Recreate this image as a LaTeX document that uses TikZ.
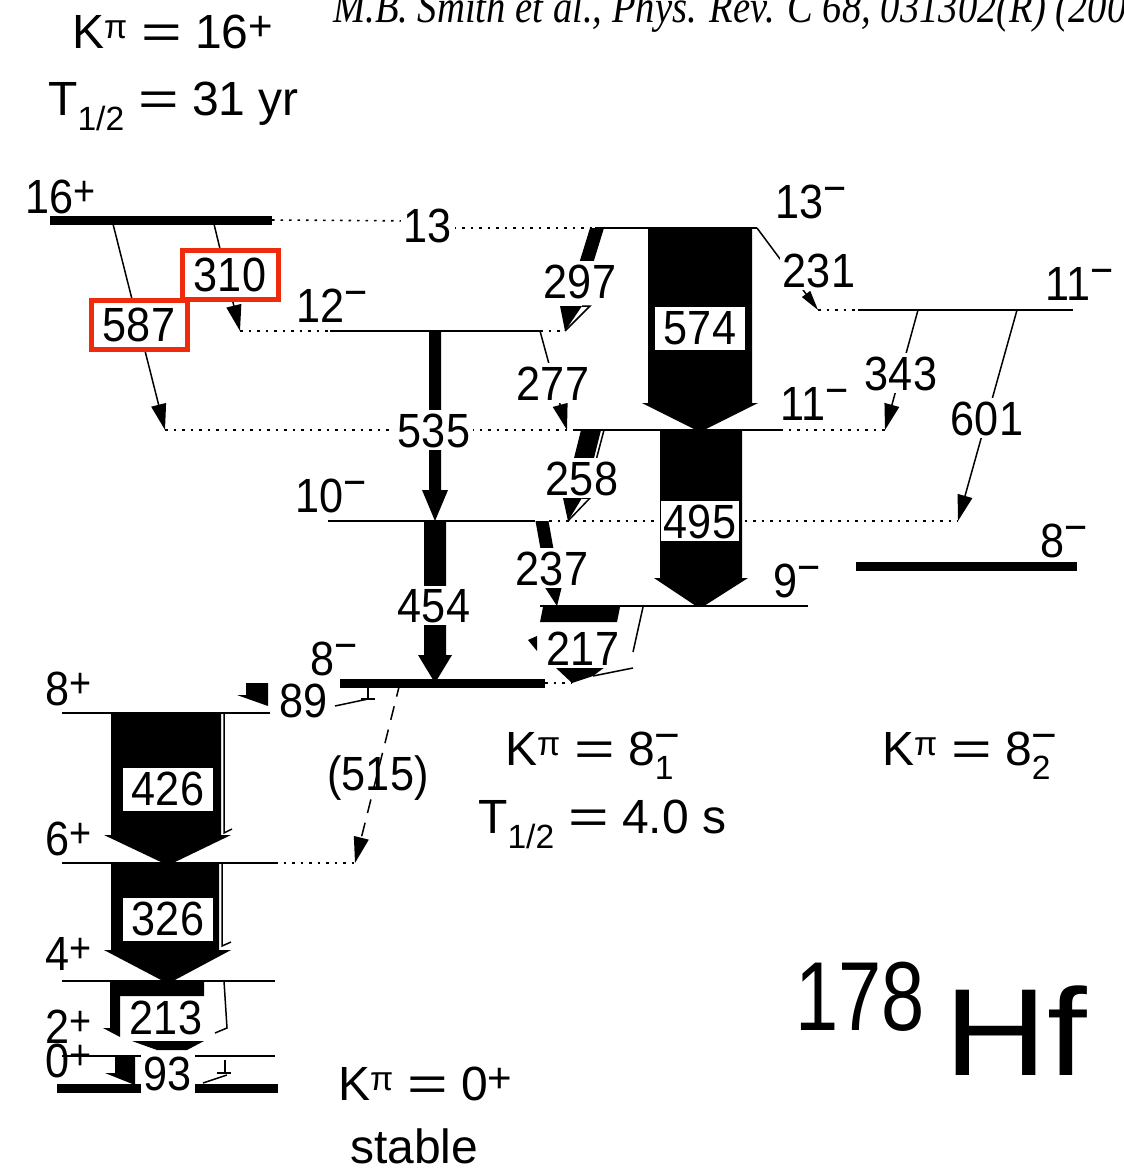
\documentclass[tikz,border=0pt]{standalone}
\usepackage{fontspec}
\setmainfont{Liberation Sans}[FakeStretch=0.9]
\newfontfamily\widefont{Liberation Sans}
\newfontfamily\citefont{Liberation Serif}[FakeStretch=0.84]
\usetikzlibrary{arrows.meta}
\definecolor{boxred}{RGB}{240,42,12}
\newcommand\sPlus{\raisebox{8pt}{\fontsize{42}{42}\selectfont +}}
\newcommand\sMinus{\raisebox{15pt}{\fontsize{44}{44}\selectfont −}}
\newcommand\eqsign{\ \scalebox{1.45}[1]{=}\ }
\begin{document}
\begin{tikzpicture}[x=1pt,y=-1pt,
  every node/.style={inner sep=0pt, font=\fontsize{48}{50}\selectfont},
  lbl/.style={anchor=base, fill=white, inner sep=3pt},
  plainlbl/.style={anchor=base},
  spin/.style={anchor=base west},
  note/.style={anchor=base west, font=\widefont\fontsize{48}{50}\selectfont},
  lvl/.style={line width=2pt},
  thicklvl/.style={line width=9pt},
  dotl/.style={line width=1.6pt, dash pattern=on 2.5pt off 6pt},
  tr/.style={line width=1.5pt, -{Triangle[length=26pt,width=15pt]}},
  ol/.style={line width=1.5pt},
  redbox/.style={draw=boxred, line width=5pt, fill=white, minimum width=96pt, minimum height=49pt},
  whitebox/.style={fill=white, minimum width=90pt, minimum height=43pt},
]
\useasboundingbox (0,0) rectangle (1124,1170);

% ---------- levels ----------
\coordinate (a16) at (50,220);  \coordinate (b16) at (272,220);
\coordinate (d13a) at (428,221); \coordinate (d13b) at (428,228);
\coordinate (a13) at (595,228); \coordinate (b13) at (757,228);
\draw[thicklvl] (a16) -- (b16);
\draw[dotl] (b16) -- (d13a);
\draw[dotl] (d13b) -- (a13);
\draw[lvl] (a13) -- (b13);

\coordinate (p310) at (240,331); \coordinate (a12) at (330,331);
\coordinate (b12) at (540,331);  \coordinate (p297) at (565,331);
\draw[dotl] (p310) -- (a12);
\draw[lvl] (a12) -- (b12);
\draw[dotl] (b12) -- (p297);

\coordinate (p231) at (818,310); \coordinate (a11u) at (858,310); \coordinate (b11u) at (1073,310);
\draw[dotl] (p231) -- (a11u);
\draw[lvl] (a11u) -- (b11u);

\coordinate (p587) at (165,430); \coordinate (a11m) at (575,430);
\coordinate (b11m) at (780,430); \coordinate (p343) at (885,430);
\draw[dotl] (p587) -- (a11m);
\draw[lvl] (a11m) -- (b11m);
\draw[dotl] (b11m) -- (p343);

\coordinate (a10) at (328,521); \coordinate (b10) at (535,521);
\coordinate (c10) at (549,521); \coordinate (p601) at (958,521);
\draw[lvl] (a10) -- (b10);
\draw[dotl] (c10) -- (p601);

\coordinate (a9) at (540,606); \coordinate (b9) at (808,606);
\draw[lvl] (a9) -- (b9);

\coordinate (a8r) at (856,566); \coordinate (b8r) at (1077,566);
\draw[thicklvl] (a8r) -- (b8r);

\coordinate (a8i) at (340,683); \coordinate (b8i) at (545,683); \coordinate (p217) at (572,683);
\draw[thicklvl] (a8i) -- (b8i);
\draw[dotl] (b8i) -- (p217);

\coordinate (a8p) at (62,713); \coordinate (b8p) at (270,713);
\draw[lvl] (a8p) -- (b8p);
\coordinate (a6p) at (62,863); \coordinate (b6p) at (275,863); \coordinate (p515) at (355,863);
\draw[lvl] (a6p) -- (b6p);
\draw[dotl] (b6p) -- (p515);
\coordinate (a4p) at (62,981); \coordinate (b4p) at (275,981);
\draw[lvl] (a4p) -- (b4p);
\coordinate (a2p) at (62,1056); \coordinate (b2p) at (275,1056);
\draw[lvl] (a2p) -- (b2p);
\coordinate (a0p) at (57,1088); \coordinate (b0p) at (278,1088);
\draw[thicklvl] (a0p) -- (b0p);

% ---------- thin transitions ----------
\coordinate (s587) at (112,220); \draw[tr] (s587) -- (p587);
\coordinate (s310) at (213,220); \draw[tr] (s310) -- (p310);
\coordinate (p277) at (567,430); \draw[tr] (b12) -- (p277);
\draw[line width=1.5pt, -{Triangle[length=20pt,width=10pt]}] (b13) -- (p231);
\coordinate (s343) at (918,310); \draw[tr] (s343) -- (p343);
\coordinate (s601) at (1017,310); \draw[tr] (s601) -- (p601);
\coordinate (s515) at (400,683);
\draw[tr, dash pattern=on 14pt off 10pt] (s515) -- (p515);

% ---------- broad transitions ----------
% 574
\fill (648,228) -- (752,228) -- (752,403) -- (758,403) -- (704,430) -- (696,430) -- (642,403) -- (648,403) -- cycle;
% 495
\fill (660,430) -- (742,430) -- (742,578) -- (748,578) -- (704,606) -- (696,606) -- (654,578) -- (660,578) -- cycle;
% 535
\fill (429,331) -- (441,331) -- (441,490) -- (448,490) -- (435,521) -- (422,490) -- (429,490) -- cycle;
% 454
\fill (424,521) -- (446,521) -- (446,655) -- (452,655) -- (435,683) -- (418,655) -- (424,655) -- cycle;
% 297
\fill (590,228) -- (604,228) -- (583,296) -- (569,296) -- cycle;
\fill (560,306) -- (582,306) -- (p297) -- cycle;
\draw[ol] (582,306) -- (590,306) -- (p297);
% 258
\fill (581,430) -- (601,430) -- (591,470) -- (571,470) -- cycle;
\draw[ol] (604,430) -- (594,468);
\fill (563,498) -- (582,498) -- (568,521) -- cycle;
\draw[ol] (582,498) -- (590,498) -- (568,521);
% 237
\fill (535.5,521) -- (548.5,521) -- (555.5,560) -- (542.5,560) -- cycle;
\fill (544,586) -- (562,586) -- (557,606) -- cycle;
% 217
\fill (543,607) -- (620,607) -- (617,622) -- (540,622) -- cycle;
\draw[ol] (643,607) -- (633,652);
\fill (528,640) -- (537,636) -- (537,651) -- cycle;
\fill (555,667) -- (605,667) -- (593,676) -- (p217) -- cycle;
\draw[ol] (593,676) -- (633,668);
% 89
\fill (246,683) -- (268,683) -- (268,706) -- (237,695) -- (246,695) -- cycle;
\draw[ol] (335,706) -- (368,699);
\draw[ol] (368,686) -- (368,699);
\draw[ol] (361,699) -- (375,699);
% 426
\fill (111,713) -- (221,713) -- (221,835) -- (231,835) -- (173,863) -- (163,863) -- (104,835) -- (111,835) -- cycle;
\draw[ol] (224,713) -- (224,833) -- (232,829);
% 326
\fill (111,863) -- (219,863) -- (219,950) -- (231,950) -- (173,981) -- (163,981) -- (104,950) -- (111,950) -- cycle;
\draw[ol] (222,863) -- (222,946) -- (231,942);
% 213
\fill (110,981) -- (204,981) -- (204,996) -- (120,996) -- (120,1037) -- (103,1028) -- (110,1028) -- cycle;
\fill (132,1041) -- (204,1041) -- (187,1050) -- (157,1050) -- cycle;
\draw[ol] (224,981) -- (227,1028) -- (215,1033);
% 93
\fill (115,1057) -- (135,1057) -- (135,1085) -- (105,1073) -- (115,1073) -- cycle;
\draw[ol] (225,1060) -- (225,1073);
\draw[ol] (217,1073) -- (231,1073);
\draw[ol] (203,1083) -- (227,1075);

% ---------- transition labels ----------
\node[lbl] (e13)  at (428,242) {13};
\node[lbl] (e297) at (580,298) {297};
\node[whitebox] (e574) at (700,328) {574};
\node[lbl] (e231) at (819,287) {231};
\node[lbl] (e277) at (553,400) {277};
\node[lbl] (e343) at (901,390) {343};
\node[lbl] (e601) at (987,435) {601};
\node[lbl] (e535) at (434,447) {535};
\node[lbl] (e258) at (582,495) {258};
\node[lbl] (e495) at (700,538) {495};
\node[lbl] (e237) at (552,585) {237};
\node[lbl] (e454) at (434,622) {454};
\node[lbl] (e217) at (583,665) {217};
\node[lbl] (e89)  at (304,717) {89};
\node[plainlbl] (e515) at (378,790) {(515)};
\node[whitebox] (e426) at (168,789) {426};
\node[whitebox] (e326) at (168,919) {326};
\node[lbl] (e213) at (166,1034) {213};
\node[lbl] (e93)  at (168,1090) {93};
\node[redbox] (e310) at (230,275) {310};
\node[redbox] (e587) at (139,325) {587};

% ---------- spin labels ----------
\node[spin] (j16p) at (25,213) {16\sPlus};
\node[spin] (j13m) at (775,218) {13\sMinus};
\node[spin] (j12m) at (296,322) {12\sMinus};
\node[spin] (j11u) at (1045,300) {11\sMinus};
\node[spin] (j11m) at (780,420) {11\sMinus};
\node[spin] (j10m) at (295,512) {10\sMinus};
\node[spin] (j8r)  at (1040,557) {8\sMinus};
\node[spin] (j9m)  at (773,597) {9\sMinus};
\node[spin] (j8i)  at (310,675) {8\sMinus};
\node[spin] (j8p)  at (45,705) {8\sPlus};
\node[spin] (j6p)  at (45,855) {6\sPlus};
\node[spin] (j4p)  at (45,970) {4\sPlus};
\node[spin] (j2p)  at (45,1043) {2\sPlus};
\node[spin] (j0p)  at (45,1077) {0\sPlus};

% ---------- annotations ----------
\node[note] (k16) at (72,48) {K\textsuperscript{π}\eqsign 16\sPlus};
\node[note] (t16) at (48,115) {T\textsubscript{1/2}\eqsign 31 yr};
\node[note] (k81) at (505,765) {K\textsuperscript{π}\eqsign 8\rlap{\textsubscript{1}}\sMinus};
\node[note] (t81) at (478,833) {T\textsubscript{1/2}\eqsign 4.0 s};
\node[note] (k82) at (882,765) {K\textsuperscript{π}\eqsign 8\rlap{\textsubscript{2}}\sMinus};
\node[note] (k0)  at (338,1100) {K\textsuperscript{π}\eqsign 0\sPlus};
\node[note] (stb) at (350,1163) {stable};
\node[spin, font=\fontsize{98}{100}\selectfont] (a178) at (795,1030) {\scalebox{0.88}[1]{178}};
\node[spin, font=\widefont\fontsize{124}{126}\selectfont] (hf) at (944,1075) {\scalebox{1.15}[1]{Hf}};
\node[spin, font=\citefont\itshape\fontsize{46}{48}\selectfont] (cite) at (333,22)
  {M.B. Smith et al., Phys. Rev. C 68, 031302(R) (2003)};
\end{tikzpicture}
\end{document}
